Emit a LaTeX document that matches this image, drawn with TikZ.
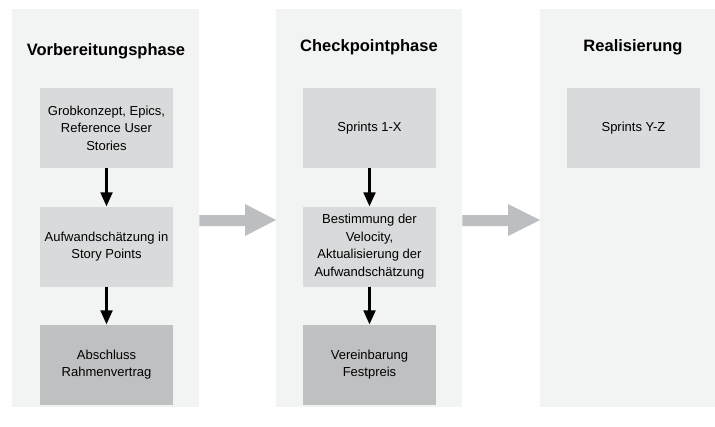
\documentclass[tikz,border=0pt]{standalone}
\usepackage{fontspec}
\setmainfont{Liberation Sans}
\usetikzlibrary{arrows.meta}
\definecolor{panelbg}{HTML}{F2F3F3}
\definecolor{boxlight}{HTML}{D9DADB}
\definecolor{boxdark}{HTML}{BFC0C2}
\definecolor{bigarrow}{HTML}{BDBEC1}
\begin{document}
\begin{tikzpicture}[x=1pt,y=-1pt,
  panel/.style={fill=panelbg, draw=none},
  title/.style={font=\fontsize{16.5}{19}\selectfont\bfseries, anchor=center},
  lbox/.style={fill=boxlight, draw=none, minimum width=133pt, minimum height=80pt, align=center, font=\fontsize{13}{17.5}\selectfont, inner sep=0pt},
  dbox/.style={lbox, fill=boxdark},
  flow/.style={-{Triangle[length=14pt,width=12pt]}, line width=2.2pt, black},
  bigarr/.style={fill=bigarrow, draw=none}
]
\useasboundingbox (0,0) rectangle (715,426);
\fill[white] (0,0) rectangle (715,426);
% panels
\node[panel, minimum width=187pt, minimum height=398pt, inner sep=0pt, anchor=north west] (p1) at (12,9) {};
\node[panel, minimum width=186pt, minimum height=398pt, inner sep=0pt, anchor=north west] (p2) at (276,9) {};
\node[panel, minimum width=175pt, minimum height=398pt, inner sep=0pt, anchor=north west] (p3) at (540,9) {};
% titles
\node[title] (t1) at (106,51) {Vorbereitungsphase};
\node[title] (t2) at (369,47) {Checkpointphase};
\node[title] (t3) at (633,47) {Realisierung};
% boxes
\node[lbox] (a1) at (106.5,128) {Grobkonzept, Epics,\\Reference User\\Stories};
\node[lbox] (a2) at (106.5,246.5) {Aufwandschätzung in\\Story Points};
\node[dbox] (a3) at (106.5,364.5) {Abschluss\\Rahmenvertrag};
\node[lbox] (b1) at (369.5,128) {Sprints 1-X};
\node[lbox] (b2) at (369.5,246.5) {Bestimmung der\\Velocity,\\Aktualisierung der\\Aufwandschätzung};
\node[dbox] (b3) at (369.5,364.5) {Vereinbarung\\Festpreis};
\node[lbox] (c1) at (633.5,128) {Sprints Y-Z};
% flow arrows
\draw[flow] (a1) -- (a2);
\draw[flow] (a2) -- (a3);
\draw[flow] (b1) -- (b2);
\draw[flow] (b2) -- (b3);
% big arrows
\fill[bigarr] (p1.east |- 0,215) -- (245,215) -- (245,204) -- (p2.west |- 0,220) -- (245,236) -- (245,226) -- (p1.east |- 0,226) -- cycle;
\fill[bigarr] (p2.east |- 0,215) -- (508,215) -- (508,204) -- (p3.west |- 0,220) -- (508,236) -- (508,226) -- (p2.east |- 0,226) -- cycle;
\end{tikzpicture}
\end{document}
